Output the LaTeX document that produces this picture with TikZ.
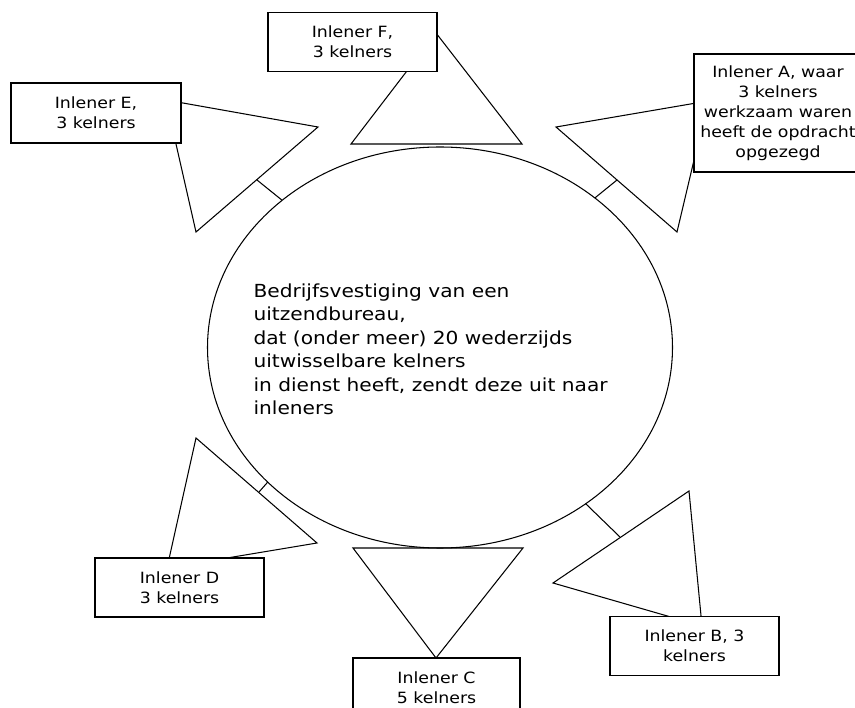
\documentclass[tikz,border=0pt]{standalone}
\usepackage{fontspec}
\newfontfamily\dvfont[FakeStretch=1.12]{DejaVu Sans}
\usetikzlibrary{shapes.geometric}
\begin{document}
\begin{tikzpicture}[x=1pt,y=-1pt, line width=1.05pt,
  boxnode/.style={draw, fill=white, inner sep=0pt, align=center,
    font=\dvfont\fontsize{15.5}{20}\selectfont,
    minimum width=169pt, minimum height=59pt},
  tri/.style={draw, line join=miter},
  tickline/.style={draw}]
\useasboundingbox (0,0) rectangle (855,708);
\fill[white] (0,0) rectangle (855,708);

% central establishment
\node[ellipse, draw, minimum width=465pt, minimum height=401pt,
      inner sep=0pt, outer sep=0pt] (firm) at (440,347.5) {};
\node[anchor=base west, inner sep=0pt, align=left,
      font=\dvfont\fontsize{18}{23.5}\selectfont] (firmtext) at (253,415)
  {Bedrijfsvestiging van een\\uitzendbureau,\\dat (onder meer) 20 wederzijds\\uitwisselbare kelners\\in dienst heeft, zendt deze uit naar\\inleners};

% triangles
\draw[tri] (166,100) -- (318,127) -- (196,232) -- cycle; % E
\draw[tri] (436,33) -- (522,144) -- (351,144) -- cycle;  % F
\draw[tri] (708,101) -- (556,127) -- (677,232) -- cycle; % A
\draw[tri] (196,438) -- (317,543) -- (167,568) -- cycle; % D
\draw[tri] (353,548) -- (523,548) -- (436,658) -- cycle; % C
\draw[tri] (689,491) -- (553,583) -- (702,626) -- cycle; % B

% tick connectors
\coordinate (tE) at (257,180);
\coordinate (tA) at (617,180);
\coordinate (tD) at (259,492);
\coordinate (tB) at (620,537);
\draw[tickline] (tE) -- (firm.137.3);
\draw[tickline] (tA) -- (firm.44.3);
\draw[tickline] (tD) -- (firm.218.1);
\draw[tickline] (tB) -- (firm.313.8);

% boxes
\node[boxnode] (F) at (352.5,42) {Inlener F,\\3 kelners};
\node[boxnode, minimum width=170pt, minimum height=60pt] (E) at (96,113) {Inlener E,\\3 kelners};
\node[boxnode, minimum width=168pt, minimum height=118pt] (A) at (778,113)
  {Inlener A, waar\\3 kelners\\werkzaam waren\\heeft de opdracht\\opgezegd};
\node[boxnode] (D) at (179.5,587.5) {Inlener D\\3 kelners};
\node[boxnode, minimum width=167pt] (C) at (436.5,687.5) {Inlener C\\5 kelners};
\node[boxnode] (B) at (694.5,646) {Inlener B, 3\\kelners};
\end{tikzpicture}
\end{document}
